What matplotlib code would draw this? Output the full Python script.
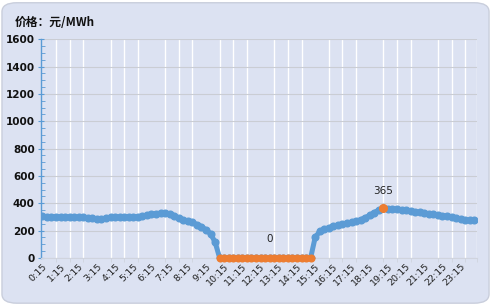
import matplotlib
matplotlib.use("Agg")
import matplotlib.pyplot as plt
from matplotlib.patches import FancyBboxPatch
from matplotlib.ticker import MultipleLocator
import numpy as np

plt.rcParams['font.family'] = ['Noto Sans CJK SC', 'DejaVu Sans']

# 96 quarter-hour prices (元/MWh), 0:15 ... 24:00
prices = [305, 303, 302, 302, 300, 300, 300, 298, 298, 297, 295, 292,
          285, 283, 290, 298, 300, 300, 300, 302, 302, 303, 305, 312,
          320, 325, 327, 328, 325, 310, 290, 278, 268, 260, 245, 230,
          205, 178, 115,
          0, 0, 0, 0, 0, 0, 0, 0, 0, 0, 0, 0, 0, 0, 0, 0, 0, 0, 0, 0, 0,
          150, 195, 210, 222, 232, 240, 248, 255, 262, 270, 280, 295,
          312, 332, 352, 365, 362, 360, 356, 352, 348, 344, 338, 333,
          328, 325, 320, 315, 310, 305, 298, 290, 282, 278, 277, 278]

times = []
for i in range(96):
    m = 15 + 15 * i
    times.append(f"{m // 60}:{m % 60:02d}")

tick_labels = times[::4]          # 0:15, 1:15, ... 23:15
zero_label = "0"
max_label = "365"

blue = '#5B9BD5'
orange = '#ED7D31'
bg = '#DCE2F2'

fig = plt.figure(figsize=(4.92, 3.05), dpi=100)
fig.patch.set_facecolor('white')
box = FancyBboxPatch((0.004, 0.006), 0.99, 0.985,
                     boxstyle="round,pad=0,rounding_size=0.03",
                     transform=fig.transFigure, facecolor=bg,
                     edgecolor='#C9CEDC', linewidth=1.0, zorder=-10)
fig.patches.append(box)

ax = fig.add_axes([41/492, 1 - 258/305, (477 - 41)/492, (258 - 39.3)/305])
ax.set_zorder(5)
ax.patch.set_alpha(0)

x = np.arange(len(prices))
y = np.array(prices, dtype=float)

ax.plot(x, y, color=blue, lw=3.6, marker='o', ms=4.8, mec=blue, mfc=blue,
        solid_capstyle='round', solid_joinstyle='round', zorder=3)
zi = np.where(y == 0)[0]
ax.plot(zi, y[zi], color=orange, lw=3.6, marker='o', ms=4.8, mec=orange,
        mfc=orange, solid_capstyle='round', zorder=4, clip_on=False)
mi = int(np.argmax(y))
ax.plot([mi], [y[mi]], 'o', color=orange, ms=5.5, zorder=5)

ax.annotate(zero_label, (zi.mean() + 1.0, 0), xytext=(0, 10),
            textcoords='offset points', ha='center', va='bottom',
            fontsize=7.5, color='#222222', family=['DejaVu Sans'])
ax.annotate(max_label, (mi, y[mi]), xytext=(0, 9),
            textcoords='offset points', ha='center', va='bottom',
            fontsize=7.5, color='#222222', family=['DejaVu Sans'])

ax.set_xlim(-0.3, 95.6)
ax.set_ylim(0, 1600)

ax.yaxis.set_major_locator(MultipleLocator(200))
ax.yaxis.set_minor_locator(MultipleLocator(50))
ax.grid(axis='y', which='major', color='#CACDD4', lw=0.8, zorder=1)

ax.set_xticks(x[::4])
ax.set_xticklabels(tick_labels, rotation=45, ha='right', rotation_mode='anchor',
                   fontsize=6.8, family=['DejaVu Sans'], color='#222222')
ax.set_xticks(np.arange(0, 96, 3).tolist() + [95.6], minor=True)
ax.grid(axis='x', which='minor', color='white', lw=1.0, zorder=1)
ax.tick_params(axis='x', which='major', length=0, pad=3)
ax.tick_params(axis='x', which='minor', length=3, color='#D0D4DE')

ax.tick_params(axis='y', which='major', direction='inout', length=5,
               color=blue, labelsize=7.5, pad=2, labelcolor='#111111')
ax.tick_params(axis='y', which='minor', direction='in', length=3, color=blue)
for lab in ax.get_yticklabels():
    lab.set_family(['DejaVu Sans'])
    lab.set_fontweight('bold')

ax.spines['left'].set_color(blue)
ax.spines['left'].set_linewidth(1.0)
ax.spines['bottom'].set_color('#D0D4DE')
ax.spines['top'].set_visible(False)
ax.spines['right'].set_visible(False)

fig.text(15/492, 1 - 22/305, "价格：元/MWh", fontsize=8.5, fontweight='bold',
         va='center', ha='left', color='#111111')

fig.savefig('out.png', dpi=100, facecolor='white')
